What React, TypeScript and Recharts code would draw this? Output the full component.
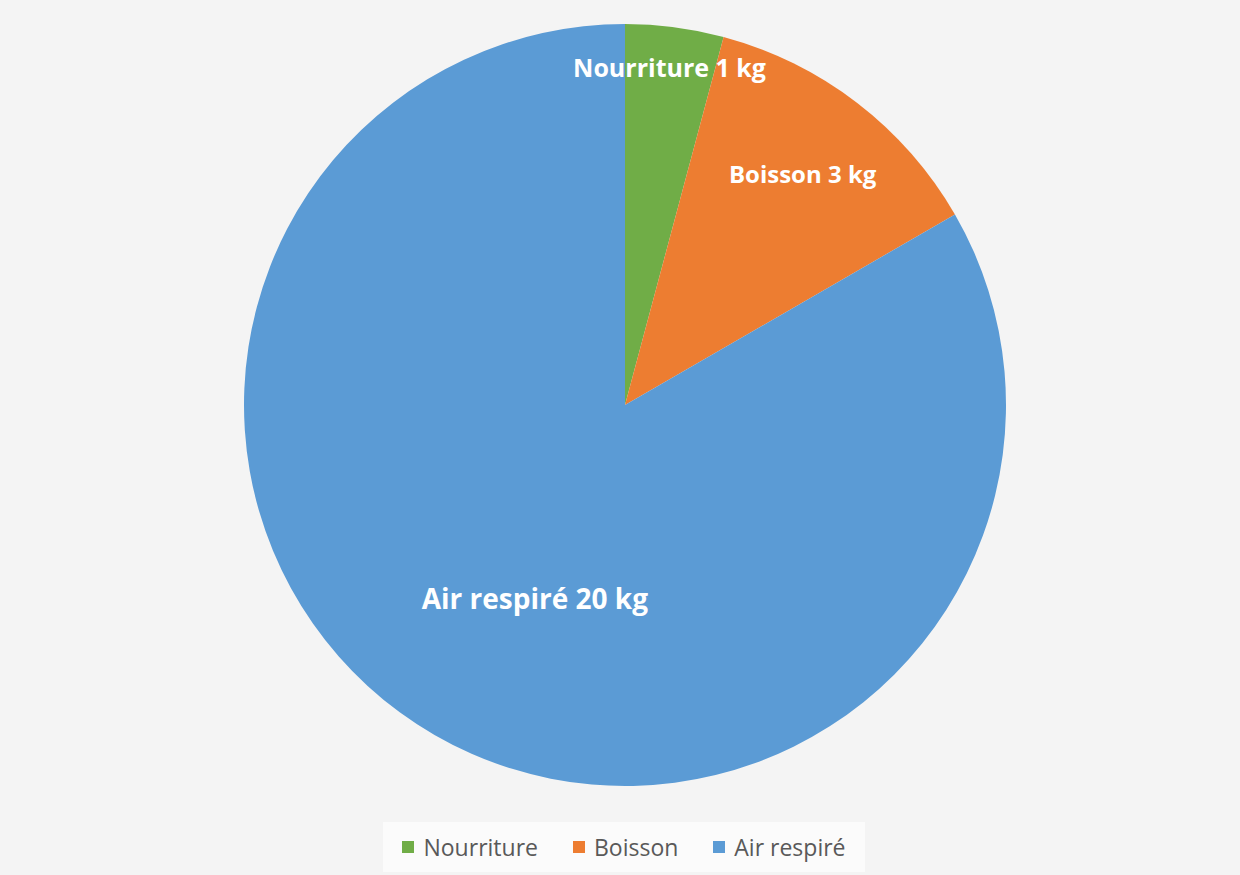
import { PieChart, Pie, Cell, Legend } from "recharts";

const categories = ["Nourriture", "Boisson", "Air respiré"];
const masses = [1, 3, 20];
const units = "kg";

const COLORS = ["#70ad47", "#ed7d31", "#5b9bd5"];

// where Excel put each data label (fraction of radius, angle nudge in degrees)
const LABEL_RADIUS = [0.895, 0.766, 0.56];
const LABEL_ANGLE_SHIFT = [0, 0, 5];
const LABEL_SIZE = [25, 24, 28];

const data = categories.map((name, i) => ({ name, value: masses[i] }));

const RADIAN = Math.PI / 180;
const FONT = "'Open Sans', 'Noto Sans', sans-serif";

function renderLabel(props: any) {
  const { cx, cy, midAngle, outerRadius, index, name, value } = props;
  const r = outerRadius * LABEL_RADIUS[index];
  const a = (midAngle + LABEL_ANGLE_SHIFT[index]) * RADIAN;
  const x = cx + r * Math.cos(a);
  const y = cy - r * Math.sin(a);
  return (
    <text
      x={x}
      y={y}
      fill="#ffffff"
      textAnchor="middle"
      dominantBaseline="central"
      fontFamily={FONT}
      fontWeight={700}
      fontSize={LABEL_SIZE[index]}
    >
      {`${name} ${value} ${units}`}
    </text>
  );
}

function renderLegend() {
  return (
    <div
      style={{
        display: "flex",
        justifyContent: "center",
        alignItems: "center",
        gap: 35,
        width: 482,
        height: 50,
        background: "#fbfbfb",
        fontFamily: FONT,
        fontSize: 23,
        color: "#595959",
      }}
    >
      {data.map((d, i) => (
        <div key={d.name} style={{ display: "flex", alignItems: "center", gap: 9 }}>
          <span style={{ display: "inline-block", width: 12, height: 12, background: COLORS[i] }} />
          <span>{d.name}</span>
        </div>
      ))}
    </div>
  );
}

export default function App() {
  return (
    <div
      style={{
        position: "absolute",
        left: 0,
        top: 0,
        width: 1240,
        height: 875,
        background: "#f4f4f4",
      }}
    >
      <PieChart width={1240} height={875} margin={{ top: 0, right: 0, bottom: 0, left: 0 }}>
        <Pie
          data={data}
          dataKey="value"
          nameKey="name"
          cx={625}
          cy={405}
          outerRadius={381}
          startAngle={90}
          endAngle={-270}
          stroke="none"
          label={renderLabel}
          labelLine={false}
          isAnimationActive={false}
        >
          {data.map((d, i) => (
            <Cell key={d.name} fill={COLORS[i]} />
          ))}
        </Pie>
        <Legend
          verticalAlign="bottom"
          content={renderLegend}
          wrapperStyle={{ bottom: 3, left: 383, width: 482 }}
        />
      </PieChart>
    </div>
  );
}
